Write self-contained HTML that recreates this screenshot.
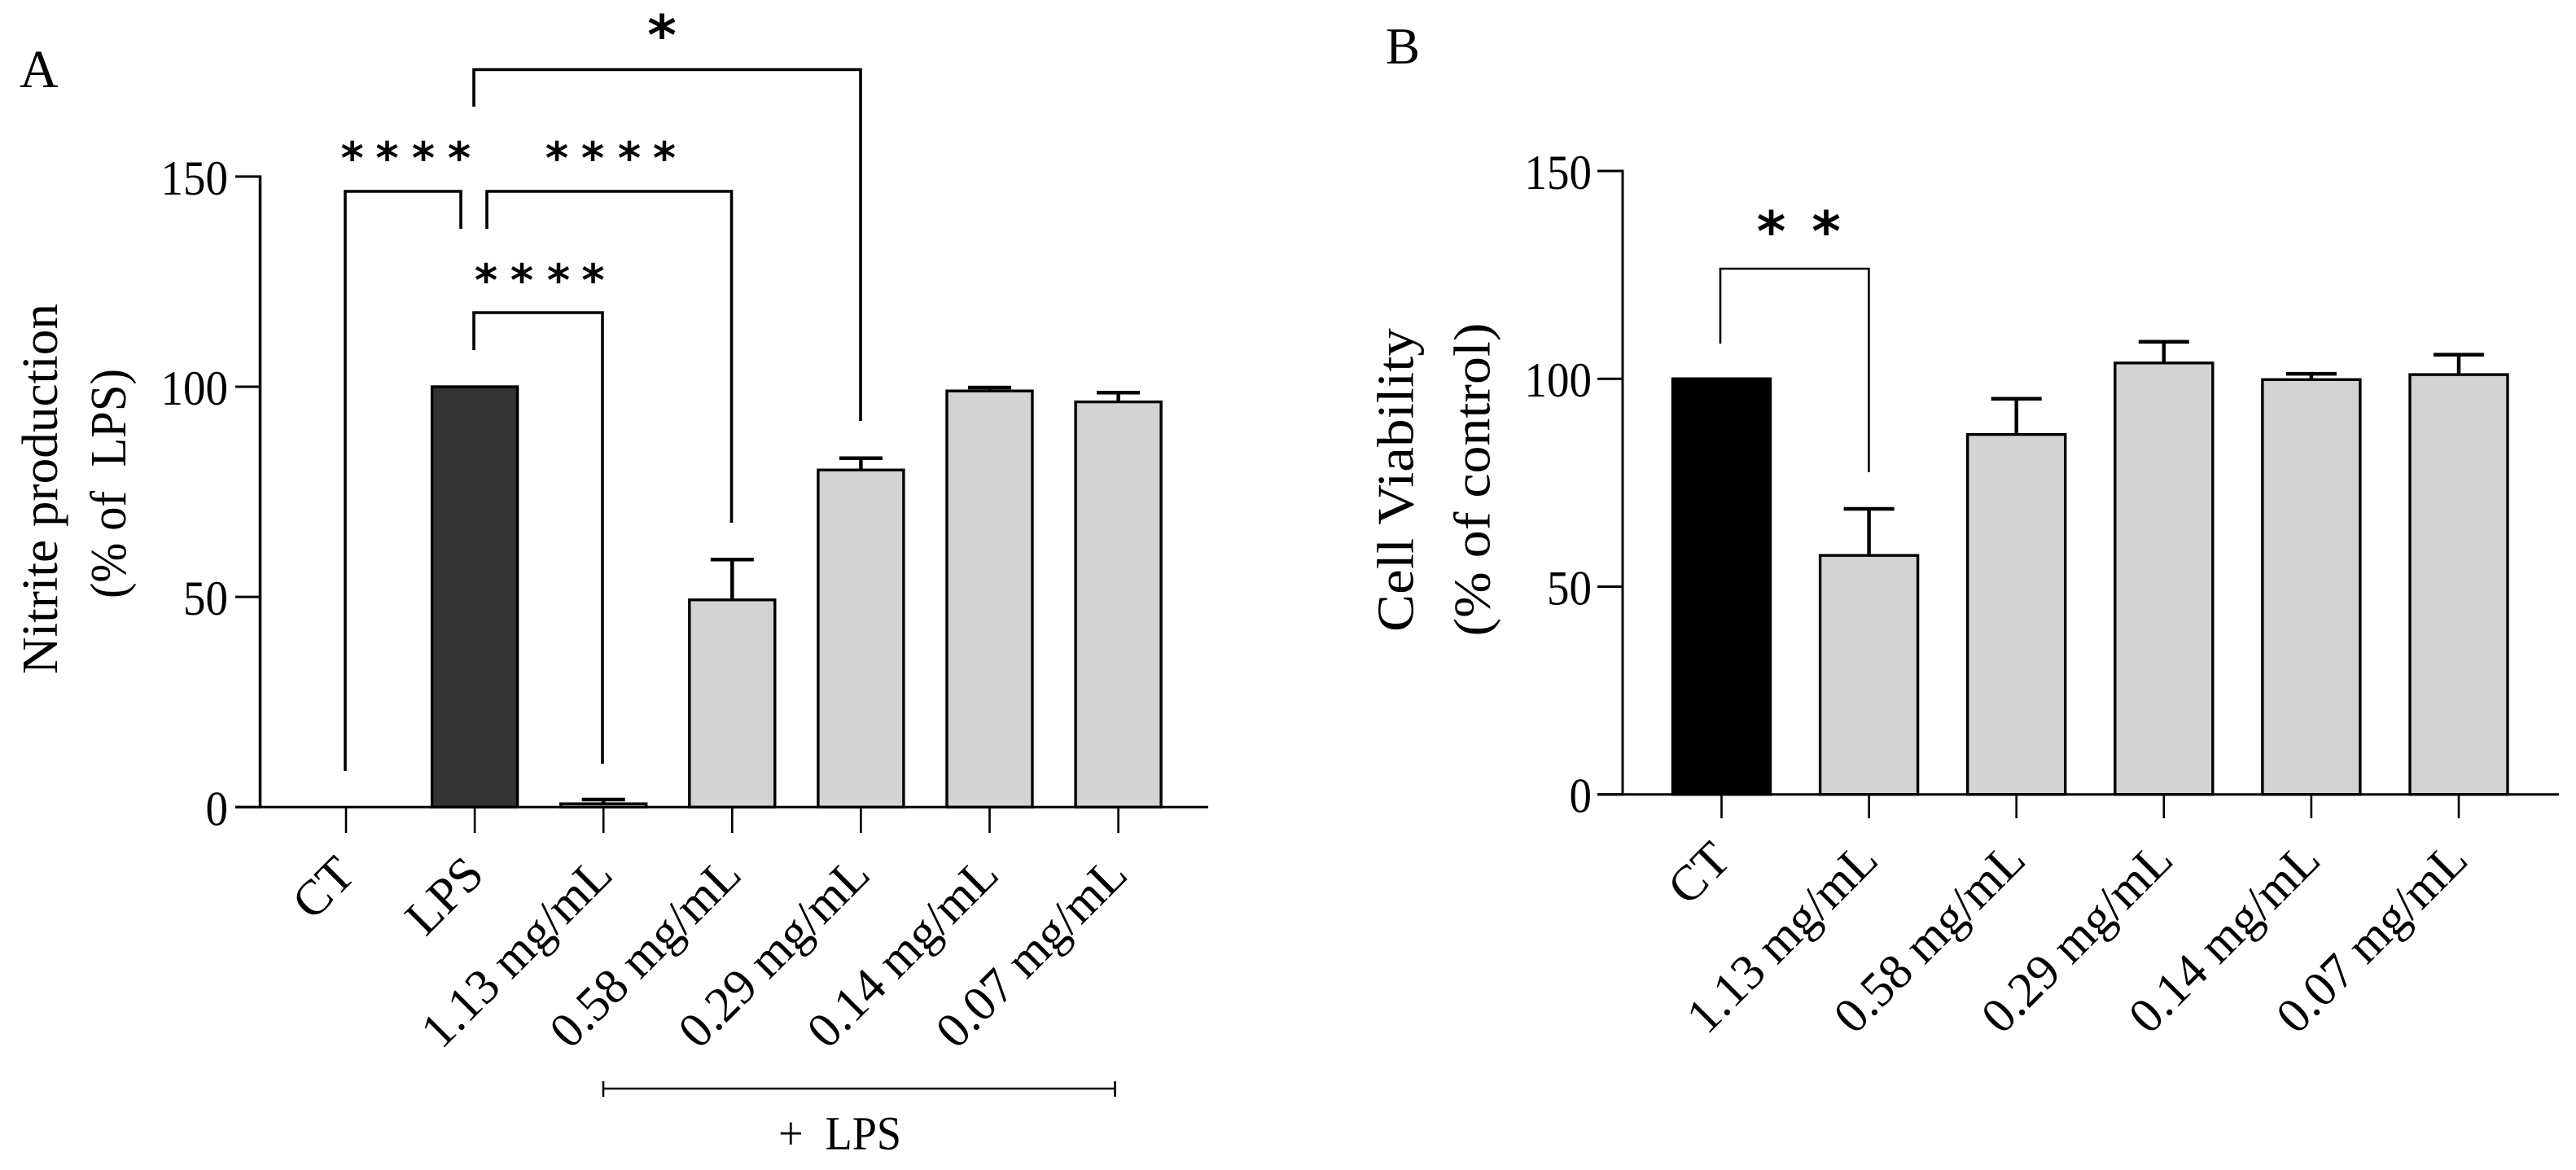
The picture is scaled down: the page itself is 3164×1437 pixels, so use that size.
<!DOCTYPE html>
<html lang="en">
<head>
<meta charset="utf-8">
<title>Nitrite production and cell viability</title>
<style>
html,body{margin:0;padding:0;background:#fff;}
svg{display:block;}
text{font-family:"Liberation Serif",serif;fill:#000;}
.star{font-family:"DejaVu Sans",sans-serif;font-weight:bold;text-anchor:middle;}
.br{fill:none;stroke:#000;stroke-width:3.6;stroke-linejoin:miter;}
.brb{fill:none;stroke:#000;stroke-width:2.6;stroke-linejoin:miter;}
</style>
</head>
<body>
<svg id="figure" xmlns="http://www.w3.org/2000/svg" width="3164" height="1437" viewBox="0 0 3164 1437">
  <rect x="0" y="0" width="3164" height="1437" fill="#fff"/>

  <g id="panelA">
    <text x="24" y="107" font-size="66">A</text>
    <text transform="translate(70,600.5) rotate(-90)" text-anchor="middle" font-size="62" textLength="455" lengthAdjust="spacingAndGlyphs">Nitrite production</text>
    <text transform="translate(154,594) rotate(-90)" text-anchor="middle" font-size="62" textLength="282" lengthAdjust="spacingAndGlyphs">(% of&#160;&#160;LPS)</text>

    <path class="br" d="M582 131V85.5H1057V517"/>
    <path class="br" d="M424 947V235H566V281"/>
    <path class="br" d="M598 281V235H898.5V642"/>
    <path class="br" d="M582 430V384H740V938"/>

    <text class="star" x="813" y="67" font-size="68">*</text>
    <g font-size="54">
      <text class="star" x="432.6" y="213">*</text><text class="star" x="475.5" y="213">*</text><text class="star" x="520" y="213">*</text><text class="star" x="564" y="213">*</text>
    </g>
    <g font-size="54">
      <text class="star" x="684" y="213">*</text><text class="star" x="728" y="213">*</text><text class="star" x="773" y="213">*</text><text class="star" x="816" y="213">*</text>
    </g>
    <g font-size="54">
      <text class="star" x="597" y="363">*</text><text class="star" x="641" y="363">*</text><text class="star" x="686" y="363">*</text><text class="star" x="728.5" y="363">*</text>
    </g>

    <g id="marksA"></g>
    <g id="axesA"></g>

    <path d="M741 1337H1369.5M741 1328V1347M1369.5 1328V1347" fill="none" stroke="#000" stroke-width="2.6"/>
    <text x="956" y="1411.5" font-size="58" textLength="151" lengthAdjust="spacingAndGlyphs">+&#160;&#160;LPS</text>
  </g>

  <g id="panelB">
    <text x="1702" y="78" font-size="63">B</text>
    <text transform="translate(1735.5,589.5) rotate(-90)" text-anchor="middle" font-size="64" textLength="373" lengthAdjust="spacingAndGlyphs">Cell Viability</text>
    <text transform="translate(1829.5,589) rotate(-90)" text-anchor="middle" font-size="64" textLength="385" lengthAdjust="spacingAndGlyphs">(% of control)</text>

    <path class="brb" d="M2113 422V330H2295.4V580"/>
    <text class="star" x="2175.5" y="308" font-size="68">*</text>
    <text class="star" x="2243" y="308" font-size="68">*</text>

    <g id="marksB"></g>
    <g id="axesB"></g>
  </g>
</svg>

<script>
// Panel A data
const categoriesA = ["CT", "LPS", "1.13 mg/mL", "0.58 mg/mL", "0.29 mg/mL", "0.14 mg/mL", "0.07 mg/mL"];
const valuesA = [0, 100, 0.8, 49.3, 80.2, 99, 96.4];
const errorsA = [0, 0, 1, 9.6, 2.8, 0.8, 2.2];
const fillsA = ["#d3d3d3", "#333333", "#d3d3d3", "#d3d3d3", "#d3d3d3", "#d3d3d3", "#d3d3d3"];
const ticksA = [0, 50, 100, 150];

// Panel B data
const categoriesB = ["CT", "1.13 mg/mL", "0.58 mg/mL", "0.29 mg/mL", "0.14 mg/mL", "0.07 mg/mL"];
const valuesB = [100, 57.5, 86.6, 103.8, 99.8, 101];
const errorsB = [0, 11.2, 8.6, 5.1, 1.4, 4.8];
const fillsB = ["#000000", "#d3d3d3", "#d3d3d3", "#d3d3d3", "#d3d3d3", "#d3d3d3"];
const ticksB = [0, 50, 100, 150];

const NS = "http://www.w3.org/2000/svg";

function mk(parent, tag, attrs, txt) {
  const el = document.createElementNS(NS, tag);
  for (const k in attrs) el.setAttribute(k, attrs[k]);
  if (txt !== undefined) el.textContent = txt;
  parent.appendChild(el);
  return el;
}

function drawChart(cfg) {
  const x = i => cfg.x0 + cfg.dx * i;
  const y = v => cfg.y0 - cfg.k * v;

  cfg.values.forEach((v, i) => {
    const cx = x(i);
    const top = y(v);
    const bot = y(0);
    if (v > 0) {
      const bar = mk(cfg.marks, "rect", {
        x: cx - cfg.barW / 2, y: top, width: cfg.barW, height: bot - top,
        fill: cfg.fills[i], stroke: "#000", "stroke-width": 3.4
      });
      
      
    }
    if (cfg.errors[i] > 0) {
      const ey = y(v + cfg.errors[i]);
      const stem = mk(cfg.marks, "line", {
        x1: cx, x2: cx, y1: top, y2: ey, stroke: "#000", "stroke-width": 4.5
      });
      
      
      const cap = mk(cfg.marks, "line", {
        x1: cx - cfg.capW / 2, x2: cx + cfg.capW / 2, y1: ey, y2: ey, stroke: "#000", "stroke-width": 4.5
      });
      
      
    }
  });

  const yAxis = mk(cfg.axes, "line", {
    x1: cfg.axisX, x2: cfg.axisX, y1: y(cfg.ticks[cfg.ticks.length - 1]) - 1.5, y2: y(0) + 1.5,
    stroke: "#000", "stroke-width": cfg.axisW
  });
  
  

  const xAxis = mk(cfg.axes, "line", {
    x1: cfg.tickL, x2: cfg.axisEnd, y1: y(0), y2: y(0), stroke: "#000", "stroke-width": 3
  });
  
  

  cfg.ticks.forEach(t => {
    const mark = mk(cfg.axes, "line", {
      x1: cfg.tickL, x2: cfg.axisX, y1: y(t), y2: y(t), stroke: "#000", "stroke-width": 3
    });
    
    
    const s = String(t);
    const label = mk(cfg.axes, "text", {
      x: cfg.labelR, y: y(t) + 22, "text-anchor": "end", "font-size": 60,
      textLength: s.length * 27.5, lengthAdjust: "spacingAndGlyphs"
    }, s);
    
    
  });

  cfg.categories.forEach((c, i) => {
    const cx = x(i);
    const mark = mk(cfg.axes, "line", {
      x1: cx, x2: cx, y1: y(0), y2: cfg.tickB, stroke: "#000", "stroke-width": 2.6
    });
    
    
    const ax = cx + 14;
    const ay = cfg.tickB + 54;
    const label = mk(cfg.axes, "text", {
      transform: "translate(" + ax + "," + ay + ") rotate(-45)",
      "text-anchor": "end", "font-size": 61
    }, c);
    
    
  });
}

drawChart({
  marks: document.getElementById("marksA"), axes: document.getElementById("axesA"),
  categories: categoriesA, values: valuesA, errors: errorsA, fills: fillsA, ticks: ticksA,
  x0: 425, dx: 158.1, y0: 991.3, k: 5.163, barW: 105, capW: 53,
  axisX: 319.5, axisW: 3.5, tickL: 289, axisEnd: 1484, tickB: 1023, labelR: 280
});

drawChart({
  marks: document.getElementById("marksB"), axes: document.getElementById("axesB"),
  categories: categoriesB, values: valuesB, errors: errorsB, fills: fillsB, ticks: ticksB,
  x0: 2114.5, dx: 181.1, y0: 975.7, k: 5.105, barW: 120, capW: 62,
  axisX: 1993, axisW: 3, tickL: 1962, axisEnd: 3143, tickB: 1005, labelR: 1955
});
</script>
</body>
</html>
